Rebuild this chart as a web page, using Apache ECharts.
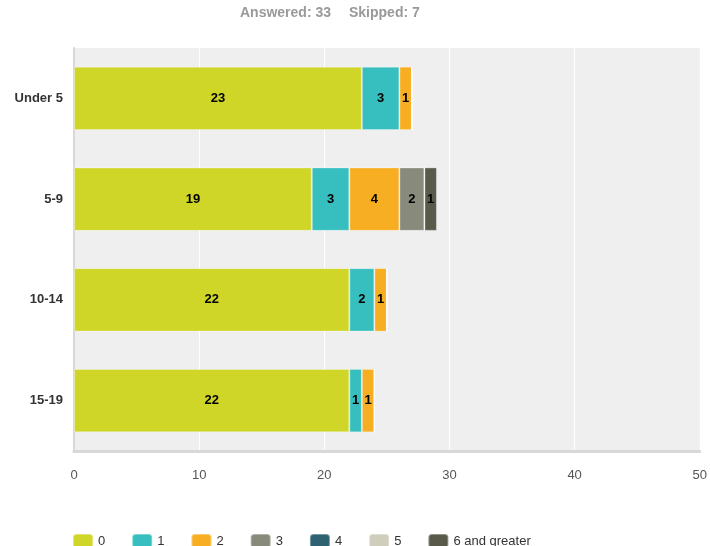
<!DOCTYPE html>
<html>
<head>
<meta charset="utf-8">
<script src="https://cdn.jsdelivr.net/npm/echarts@6/dist/echarts.min.js"></script>
<style>
  html, body { margin: 0; padding: 0; background: #fff; }
  #chart { width: 710px; height: 546px; }
</style>
</head>
<body>
<div id="chart"></div>
<script>
// Age groups (top to bottom) and number of children in each answer bucket
const ageGroups = ['Under 5', '5-9', '10-14', '15-19'];
const answerLabels = ['0', '1', '2', '3', '4', '5', '6 and greater'];
const counts0 = [23, 19, 22, 22];
const counts1 = [3, 3, 2, 1];
const counts2 = [1, 4, 1, 1];
const counts3 = [0, 2, 0, 0];
const counts4 = [0, 0, 0, 0];
const counts5 = [0, 0, 0, 0];
const counts6plus = [0, 1, 0, 0];
const answeredCount = 33;
const skippedCount = 7;
const xTicks = [0, 10, 20, 30, 40, 50];

const seriesValues = [counts0, counts1, counts2, counts3, counts4, counts5, counts6plus];
const palette = ['#cfd628', '#37bfbf', '#f7ae22', '#888a7b', '#2e6272', '#cfcdbc', '#5a5a4b'];
const fontStack = 'Liberation Sans, Arial, sans-serif';

const chart = echarts.init(document.getElementById('chart'));

const series = answerLabels.map((name, i) => ({
  name: name,
  type: 'bar',
  stack: 'total',
  barWidth: '63%',
  data: seriesValues[i],
  itemStyle: { color: palette[i], borderColor: 'rgba(255,255,255,0.35)', borderWidth: 1 },
  label: {
    show: true,
    position: 'inside',
    formatter: p => (p.value > 0 ? String(p.value) : ''),
    color: '#000',
    fontWeight: 'bold',
    fontSize: 13,
    fontFamily: fontStack
  },
  emphasis: { disabled: true }
}));

const headerStyle = { fill: '#999', fontSize: 14, fontWeight: 'bold', fontFamily: fontStack };

chart.setOption({
  animation: false,
  backgroundColor: '#fff',
  graphic: [
    { type: 'text', left: 240, top: 6, style: Object.assign({ text: 'Answered: ' + answeredCount }, headerStyle) },
    { type: 'text', left: 349, top: 6, style: Object.assign({ text: 'Skipped: ' + skippedCount }, headerStyle) }
  ],
  legend: {
    data: answerLabels,
    left: 67,
    top: 528,
    itemWidth: 20,
    itemHeight: 14,
    itemGap: 26,
    icon: 'roundRect',
    selectedMode: false,
    textStyle: { color: '#333', fontSize: 13, fontFamily: fontStack }
  },
  grid: {
    left: 74,
    right: 8,
    top: 48,
    bottom: 95,
    show: true,
    backgroundColor: '#efefef',
    borderWidth: 0
  },
  xAxis: {
    type: 'value',
    min: xTicks[0],
    max: xTicks[xTicks.length - 1],
    interval: 10,
    axisLine: { show: true, lineStyle: { color: '#d8d8d8', width: 3 } },
    axisTick: { show: false },
    splitLine: { show: true, lineStyle: { color: '#ffffff', width: 1 } },
    axisLabel: { color: '#555', fontSize: 13, margin: 18, fontFamily: fontStack }
  },
  yAxis: {
    type: 'category',
    data: ageGroups,
    inverse: true,
    axisLine: { show: true, lineStyle: { color: '#d8d8d8', width: 2 } },
    axisTick: { show: false },
    splitLine: { show: false },
    axisLabel: { color: '#333', fontSize: 13, fontWeight: 'bold', margin: 11, fontFamily: fontStack }
  },
  series: series
});
</script>
</body>
</html>
